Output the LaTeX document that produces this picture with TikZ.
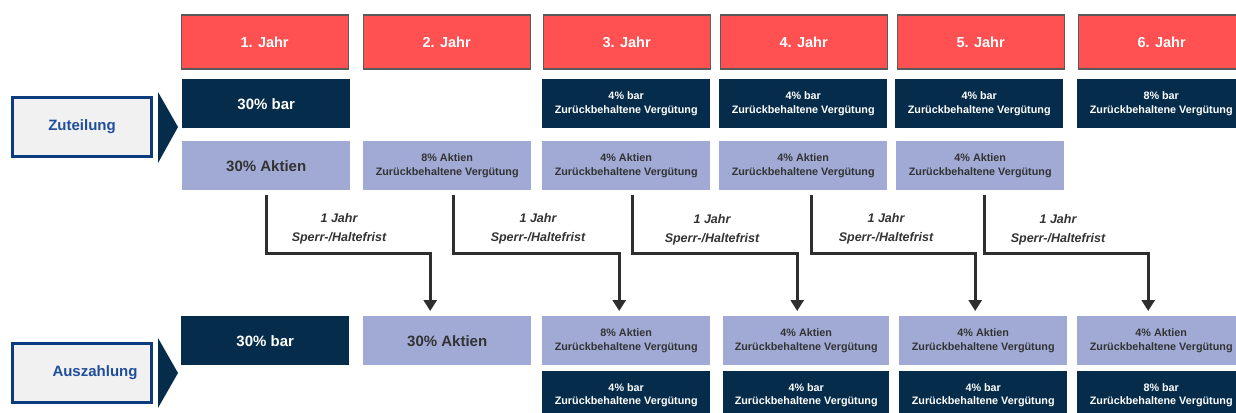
\documentclass[tikz,border=0pt]{standalone}
\usepackage{fontspec}
\setmainfont{Liberation Sans}
\usetikzlibrary{arrows.meta}
\definecolor{jahrrot}{HTML}{FF5151}
\definecolor{jahrrand}{HTML}{5A5A5A}
\definecolor{navy}{HTML}{052C4B}
\definecolor{lila}{HTML}{A0AAD5}
\definecolor{textgrau}{HTML}{333333}
\definecolor{randblau}{HTML}{0D3B80}
\definecolor{schriftblau}{HTML}{1F4E9A}
\definecolor{boxgrau}{HTML}{F1F1F1}
\definecolor{pfeilgrau}{HTML}{2E2E2E}
\begin{document}
\begin{tikzpicture}[x=1pt,y=-1pt]
\tikzstyle{every node}+=[inner sep=0pt, align=center]
\tikzstyle{jahr}=[draw=jahrrand, line width=1.2pt, fill=jahrrot, text=white, minimum width=167pt, minimum height=54pt, anchor=north west, font=\bfseries\fontsize{14.5}{17}\selectfont]
\tikzstyle{bar}=[fill=navy, text=white, minimum width=168pt, minimum height=49pt, anchor=north west, font=\bfseries\fontsize{15}{18}\selectfont]
\tikzstyle{aktien}=[fill=lila, text=textgrau, minimum width=168pt, minimum height=49pt, anchor=north west, font=\bfseries\fontsize{15}{18}\selectfont]
\tikzstyle{klein}=[font=\bfseries\fontsize{10.8}{13.5}\selectfont]
\tikzstyle{phase}=[draw=randblau, line width=3pt, fill=boxgrau, text=schriftblau, minimum width=139pt, minimum height=59pt, font=\bfseries\fontsize{15}{18}\selectfont]
\tikzstyle{flow}=[draw=pfeilgrau, line width=3pt, shorten <=5pt, shorten >=5pt, -{Triangle[length=11pt,width=13pt]}]
\tikzstyle{frist}=[text=textgrau, font=\bfseries\itshape\fontsize{12.5}{19}\selectfont]
\useasboundingbox (0,0) rectangle (1236,412);
% Jahre
\node [jahr] (j1) at (180.5,14.5) {1. Jahr};
\node [jahr] (j2) at (362.5,14.5) {2. Jahr};
\node [jahr] (j3) at (542.5,14.5) {3. Jahr};
\node [jahr] (j4) at (719.5,14.5) {4. Jahr};
\node [jahr] (j5) at (896.5,14.5) {5. Jahr};
\node [jahr] (j6) at (1077.5,14.5) {6. Jahr};
% Zuteilung
\node [phase] (zut) at (82,127) {Zuteilung};
\fill [navy] (158,92) -- (178,127) -- (158,163) -- cycle;
\node [bar] (b1) at (182,79) {30\% bar};
\node [bar, klein] (b3) at (542,79) {4\% bar\\Zurückbehaltene Vergütung};
\node [bar, klein] (b4) at (719,79) {4\% bar\\Zurückbehaltene Vergütung};
\node [bar, klein] (b5) at (895,79) {4\% bar\\Zurückbehaltene Vergütung};
\node [bar, klein] (b6) at (1077,79) {8\% bar\\Zurückbehaltene Vergütung};
\node [aktien] (a1) at (182,141) {30\% Aktien};
\node [aktien, klein] (a2) at (363,141) {8\% Aktien\\Zurückbehaltene Vergütung};
\node [aktien, klein] (a3) at (542,141) {4\% Aktien\\Zurückbehaltene Vergütung};
\node [aktien, klein] (a4) at (719,141) {4\% Aktien\\Zurückbehaltene Vergütung};
\node [aktien, klein] (a5) at (896,141) {4\% Aktien\\Zurückbehaltene Vergütung};
% Auszahlung
\node [phase] (ausz) at (82,372.5) {\hspace*{26pt}Auszahlung};
\fill [navy] (158,338) -- (178,373) -- (158,408) -- cycle;
\node [bar] (q1) at (181,316) {30\% bar};
\node [aktien] (p2) at (363,316) {30\% Aktien};
\node [aktien, klein] (p3) at (542,316) {8\% Aktien\\Zurückbehaltene Vergütung};
\node [aktien, klein, minimum width=166pt] (p4) at (723,316) {4\% Aktien\\Zurückbehaltene Vergütung};
\node [aktien, klein] (p5) at (899,316) {4\% Aktien\\Zurückbehaltene Vergütung};
\node [aktien, klein] (p6) at (1077,316) {4\% Aktien\\Zurückbehaltene Vergütung};
\node [bar, klein, minimum height=48pt] (q3) at (542,371) {4\% bar\\Zurückbehaltene Vergütung};
\node [bar, klein, minimum height=48pt, minimum width=166pt] (q4) at (723,371) {4\% bar\\Zurückbehaltene Vergütung};
\node [bar, klein, minimum height=48pt] (q5) at (899,371) {4\% bar\\Zurückbehaltene Vergütung};
\node [bar, klein, minimum height=48pt] (q6) at (1077,371) {8\% bar\\Zurückbehaltene Vergütung};
% Sperrfristen
\draw [flow] (a1.south) -- ++(0,63) -| ([xshift=-17pt]p2.north);
\draw [flow] ([xshift=6pt]a2.south) -- ++(0,63) -| ([xshift=-7pt]p3.north);
\draw [flow] ([xshift=6pt]a3.south) -- ++(0,63) -| ([xshift=-9pt]p4.north);
\draw [flow] ([xshift=8pt]a4.south) -- ++(0,63) -| ([xshift=-8pt]p5.north);
\draw [flow] ([xshift=4pt]a5.south) -- ++(0,63) -| ([xshift=-13pt]p6.north);
\node [frist] (l1) at (339,229) {1 Jahr\\Sperr-/Haltefrist};
\node [frist] (l2) at (538,229) {1 Jahr\\Sperr-/Haltefrist};
\node [frist] (l3) at (712,230) {1 Jahr\\Sperr-/Haltefrist};
\node [frist] (l4) at (886,229) {1 Jahr\\Sperr-/Haltefrist};
\node [frist] (l5) at (1058,230) {1 Jahr\\Sperr-/Haltefrist};
\end{tikzpicture}
\end{document}
